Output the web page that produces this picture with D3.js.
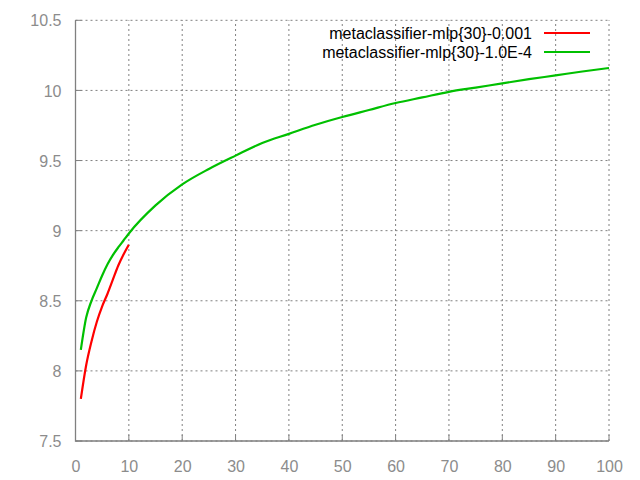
<!DOCTYPE html>
<html>
<head>
<meta charset="utf-8">
<script src="https://cdn.jsdelivr.net/npm/d3@7"></script>
<style>
  body { margin: 0; background: #fff; }
  text { font-family: "Liberation Sans", Arial, sans-serif; }
</style>
</head>
<body>
<svg id="chart" width="640" height="480"></svg>
<script>
const seriesNames = ["metaclassifier-mlp{30}-0.001", "metaclassifier-mlp{30}-1.0E-4"];
const seriesColors = ["#ff0000", "#00c000"];

const redX = [1, 2, 3, 4, 5, 6, 7, 8, 9, 10];
const redY = [7.80, 8.04, 8.21, 8.35, 8.46, 8.55, 8.65, 8.75, 8.83, 8.90];

const greenX = [1, 2, 3, 4, 5, 6, 7, 8, 9, 10, 15, 20, 25, 30, 35, 40, 45, 50, 55, 60, 65, 70, 75, 80, 85, 90, 95, 100];
const greenY = [8.15, 8.38, 8.50, 8.59, 8.68, 8.76, 8.825, 8.88, 8.93, 8.98, 9.18, 9.33, 9.44, 9.535, 9.625, 9.69, 9.755, 9.81, 9.86, 9.91, 9.95, 9.99, 10.02, 10.05, 10.08, 10.107, 10.135, 10.16];

const xTicks = [0, 10, 20, 30, 40, 50, 60, 70, 80, 90, 100];
const yTicks = [7.5, 8, 8.5, 9, 9.5, 10, 10.5];

(function () {
const svg = d3.select("#chart");
const mLeft = 75.5, mRight = 609, mTop = 20.3, mBottom = 441;
const x = d3.scaleLinear().domain([0, 100]).range([mLeft, mRight]);
const y = d3.scaleLinear().domain([7.5, 10.5]).range([mBottom, mTop]);

const gridColor = "#808080";
const grid = svg.append("g");
xTicks.forEach(t => {
  grid.append("line").attr("x1", x(t)).attr("x2", x(t)).attr("y1", mBottom).attr("y2", mTop)
    .attr("stroke", gridColor).attr("stroke-width", 1).attr("stroke-dasharray", "2,3");
});
yTicks.forEach(t => {
  grid.append("line").attr("x1", mLeft).attr("x2", mRight).attr("y1", y(t)).attr("y2", y(t))
    .attr("stroke", gridColor).attr("stroke-width", 1).attr("stroke-dasharray", "2,3");
});

const xAxis = d3.axisBottom(x).tickValues(xTicks).tickSize(0).tickPadding(14).tickFormat(d3.format("d"));
const yAxis = d3.axisLeft(y).tickValues(yTicks).tickSize(0).tickPadding(14).tickFormat(d => String(d));

const gx = svg.append("g").attr("transform", `translate(0,${mBottom})`).call(xAxis);
const gy = svg.append("g").attr("transform", `translate(${mLeft},0)`).call(yAxis);
[gx, gy].forEach(g => {
  g.select(".domain").remove();
  g.selectAll("text").attr("fill", "#8c8c8c").style("font-size", "16px")
    .style("font-family", "'Liberation Sans', Arial, sans-serif");
});
gx.selectAll("text").attr("dy", "0.35em").attr("y", 25);
gy.selectAll("text").attr("x", -14).attr("dy", "0.35em");

svg.append("path")
  .attr("d", `M${mLeft},${mTop}V${mBottom}H${mRight}`)
  .attr("fill", "none").attr("stroke", gridColor).attr("stroke-width", 1.3);

xTicks.forEach(t => {
  svg.append("line").attr("x1", x(t)).attr("x2", x(t)).attr("y1", mBottom).attr("y2", mBottom - 6)
    .attr("stroke", gridColor).attr("stroke-width", 1);
});
yTicks.forEach(t => {
  svg.append("line").attr("x1", mLeft).attr("x2", mLeft + 6).attr("y1", y(t)).attr("y2", y(t))
    .attr("stroke", gridColor).attr("stroke-width", 1);
});

const line = d3.line().x(d => x(d[0])).y(d => y(d[1])).curve(d3.curveMonotoneX);
const series = [d3.zip(redX, redY), d3.zip(greenX, greenY)];
series.forEach((s, i) => {
  svg.append("path").datum(s).attr("d", line)
    .attr("fill", "none").attr("stroke", seriesColors[i]).attr("stroke-width", 2.2);
});

const legendY = [33, 52];
seriesNames.forEach((n, i) => {
  svg.append("text").attr("x", 532).attr("y", legendY[i]).attr("dy", "0.35em")
    .attr("text-anchor", "end").style("font-size", "16px").attr("fill", "#000").text(n);
  svg.append("line").attr("x1", 544).attr("x2", 590).attr("y1", legendY[i]).attr("y2", legendY[i])
    .attr("stroke", seriesColors[i]).attr("stroke-width", 2.2);
});
})();
</script>
</body>
</html>
